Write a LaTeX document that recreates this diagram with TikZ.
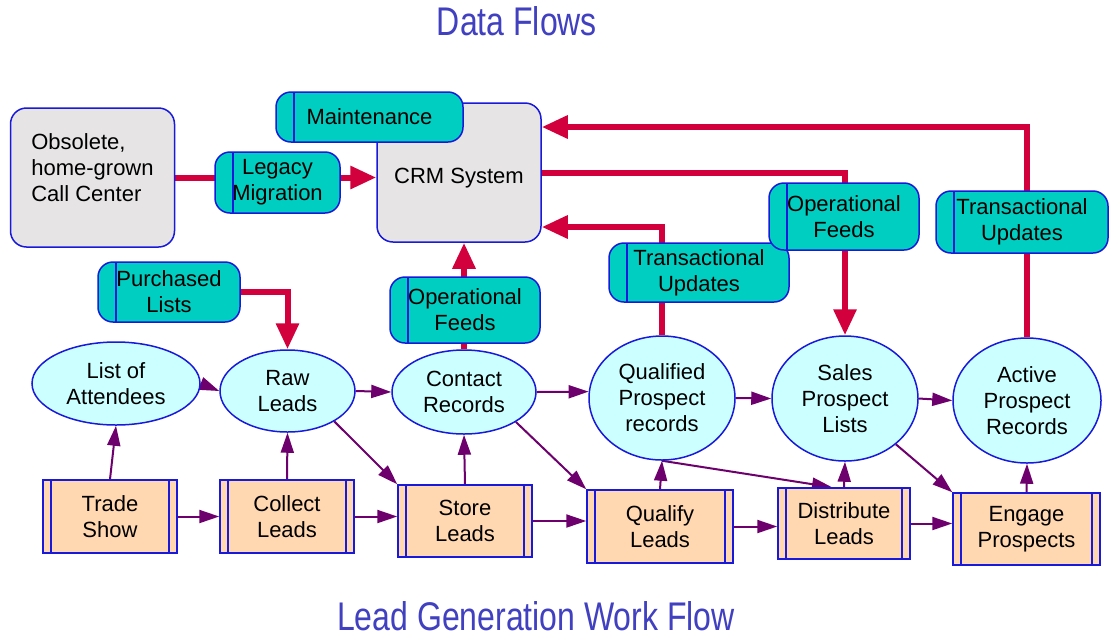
\documentclass[tikz,border=0pt]{standalone}
\usepackage{fontspec}
\setmainfont{Liberation Sans}
\newfontfamily\titlefont[FakeStretch=0.8]{Liberation Sans}
\usepackage{tikz}
\usetikzlibrary{arrows.meta,backgrounds,shapes.geometric}

\definecolor{edgeblue}{RGB}{25,25,220}
\definecolor{flowred}{RGB}{210,0,60}
\definecolor{workpurple}{RGB}{110,0,110}
\definecolor{tagteal}{RGB}{0,206,192}
\definecolor{storecyan}{RGB}{204,255,255}
\definecolor{procpeach}{RGB}{255,216,178}
\definecolor{sysgrey}{RGB}{230,228,228}
\definecolor{titleblue}{RGB}{64,64,192}

\tikzset{
  system/.style={draw=edgeblue,line width=1.5pt,fill=sysgrey,rounded corners=16pt,
    minimum width=164pt,minimum height=139pt,inner sep=0pt},
  feed/.style={draw=edgeblue,line width=1.5pt,fill=tagteal,rounded corners=15pt,
    align=center,inner sep=0pt,
    path picture={\draw[edgeblue,line width=1.2pt]
      ([xshift=18pt]path picture bounding box.north west) --
      ([xshift=18pt]path picture bounding box.south west);}},
  store/.style={ellipse,draw=edgeblue,line width=1.5pt,fill=storecyan,
    align=center,inner sep=0pt},
  process/.style={draw=edgeblue,line width=1.5pt,fill=procpeach,
    align=center,inner sep=0pt,minimum height=73pt,
    path picture={\draw[edgeblue,line width=1.2pt]
      ([xshift=8pt]path picture bounding box.north west) --
      ([xshift=8pt]path picture bounding box.south west)
      ([xshift=-8pt]path picture bounding box.north east) --
      ([xshift=-8pt]path picture bounding box.south east);}},
  heading/.style={font=\titlefont\fontsize{40}{48}\selectfont,text=titleblue,anchor=base},
  dataflow/.style={flowred,line width=6pt,-{Triangle[length=26pt,width=22pt]}},
  workflow/.style={workpurple,line width=2pt,-{Triangle[length=20pt,width=13pt]}},
}

\begin{document}
\begin{tikzpicture}[x=1pt,y=-1pt,every node/.append style={font=\fontsize{22}{26}\selectfont}]
\useasboundingbox (0,0) rectangle (1110,638);

\node[heading] (dataflows) at (517,35) {Data Flows};
\node[heading] (leadflow) at (536,630) {Lead Generation Work Flow};

% systems and feeds
\node[system,align=left,text depth=20pt] (obsolete) at (92.5,177.5) {Obsolete,\\home-grown\\Call Center};
\node[system,text height=26pt] (crm) at (459,172.5) {CRM System};
\node[feed,minimum width=187pt,minimum height=50pt] (maintenance) at (369.5,117) {Maintenance};
\node[feed,minimum width=125pt,minimum height=61pt] (legacy) at (277.5,182.5) {Legacy\\Migration};
\node[feed,minimum width=142pt,minimum height=60pt] (purchased) at (169,292) {Purchased\\Lists};
\node[feed,minimum width=150pt,minimum height=66pt] (opfeedsA) at (465,310) {Operational\\Feeds};
\node[feed,minimum width=180pt,minimum height=59pt] (transA) at (699,272.5) {Transactional\\Updates};
\node[feed,minimum width=150pt,minimum height=67pt] (opfeedsB) at (844,216.5) {Operational\\Feeds};
\node[feed,minimum width=172pt,minimum height=62pt] (transB) at (1022,222) {Transactional\\Updates};

% data stores
\node[store,minimum width=168pt,minimum height=83pt] (list) at (116,383.5) {List of\\Attendees};
\node[store,minimum width=135pt,minimum height=82pt] (raw) at (287.5,391) {Raw\\Leads};
\node[store,minimum width=144pt,minimum height=84pt] (contact) at (464,392) {Contact\\Records};
\node[store,minimum width=146pt,minimum height=124pt] (qualified) at (662,398) {Qualified\\Prospect\\records};
\node[store,minimum width=146pt,minimum height=125pt] (sales) at (845,398.5) {Sales\\Prospect\\Lists};
\node[store,minimum width=148pt,minimum height=125pt] (active) at (1027,400.5) {Active\\Prospect\\Records};

% processes
\node[process,minimum width=134pt] (trade) at (110,516.5) {Trade\\Show};
\node[process,minimum width=134pt] (collect) at (287,516.5) {Collect\\Leads};
\node[process,minimum width=134pt,minimum height=72pt] (storeleads) at (465,521) {Store\\Leads};
\node[process,minimum width=146pt] (qualify) at (660,526.5) {Qualify\\Leads};
\node[process,minimum width=132pt,minimum height=71pt] (distribute) at (844,523.5) {Distribute\\Leads};
\node[process,minimum width=147pt,minimum height=72pt] (engage) at (1026.5,529) {Engage\\Prospects};

\begin{scope}[on background layer]
\fill[white] (0,0) rectangle (1110,638);
\draw[dataflow] (obsolete.east) -- (obsolete.east -| crm.west);
\draw[dataflow] (contact.north) -- (contact.north |- crm.south);
\draw[dataflow] (purchased.east) -| (raw.north);
\draw[dataflow] (qualified.north) |- ([yshift=-54.5pt]crm.east);
\draw[dataflow] (crm.east) -| (sales.north);
\draw[dataflow] (active.north) |- ([yshift=45.5pt]crm.east);

\draw[workflow] (trade.north) -- (list.south);
\draw[workflow] (collect.north) -- (raw.south);
\draw[workflow] (storeleads.north) -- (contact.south);
\draw[workflow] (qualify.north) -- (qualified.south);
\draw[workflow] (distribute.north) -- (sales.south);
\draw[workflow] (engage.north) -- (active.south);
\draw[workflow] (trade.east) -- (collect.west);
\draw[workflow] (collect.east) -- (collect.east -| storeleads.west);
\draw[workflow] (storeleads.east) -- (storeleads.east -| qualify.west);
\draw[workflow] (qualify.east) -- (qualify.east -| distribute.west);
\draw[workflow] (distribute.east) -- (distribute.east -| engage.west);
\draw[workflow] (list.east) -- (raw.west);
\draw[workflow] (raw.east) -- (contact.west);
\draw[workflow] (contact.east) -- (qualified.175);
\draw[workflow] (qualified.east) -- (sales.west);
\draw[workflow] (sales.east) -- (active.west);
\draw[workflow] (raw.-33) -- (storeleads.north west);
\draw[workflow] (contact.-30) -- (qualify.north west);
\draw[workflow] (sales.-42) -- (engage.north west);
\draw[workflow] (qualified.south) -- ([xshift=-12pt]distribute.north);
\end{scope}
\end{tikzpicture}
\end{document}
